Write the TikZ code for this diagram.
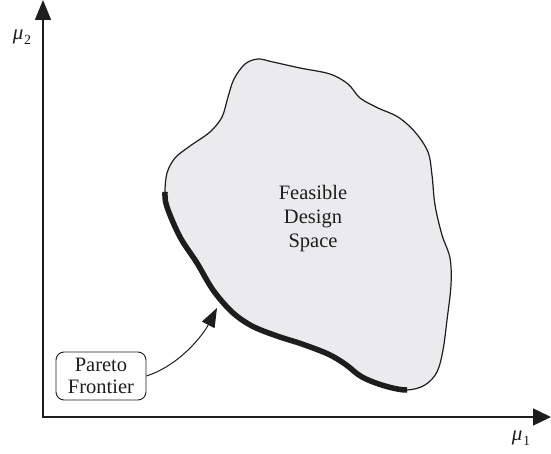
\documentclass[tikz,border=0pt]{standalone}
\usepackage{fontspec}
\setmainfont{Liberation Serif}
\usetikzlibrary{arrows.meta}
\definecolor{spacefill}{RGB}{235,235,237}
\definecolor{ink}{RGB}{30,28,29}
\tikzset{
  axisline/.style={line width=1.5pt, draw=ink,
    {Triangle[length=20pt,width=16pt]}-{Triangle[length=18pt,width=17pt]}},
  outline/.style={draw=ink, line width=1.2pt},
  frontier/.style={draw=ink, line width=5.5pt},
  labeltext/.style={font=\fontsize{20.5}{24}\selectfont, text=ink, align=center},
  callout/.style={draw=ink, line width=0.9pt, rounded corners=8pt,
    minimum width=90pt, minimum height=48pt, inner sep=0pt,
    font=\fontsize{20.5}{22}\selectfont, text=ink, align=center},
  pointer/.style={draw=ink, line width=1pt, -{Triangle[length=19pt,width=14pt]}},
  axislabel/.style={font=\fontsize{21}{21}\selectfont, text=ink, inner sep=0pt},
}
% boundary of the feasible region, traced clockwise from the top of the frontier
\def\boundary{plot[smooth cycle, tension=0.55] coordinates {
  (165,192) (167,207) (180,237) (197,263) (213,290) (232,312) (252,326)
  (277,336) (302,344) (328,354) (345,364) (362,377) (385,386) (407,390)
  (425,385) (437,372) (443,350) (447,320) (451,285) (450,258) (442,235)
  (435,205) (432,175) (428,152) (415,132) (398,117) (378,108) (360,98)
  (348,84) (330,74) (300,68) (273,62) (258,59) (245,64) (234,79) (228,97)
  (222,117) (210,132) (190,146) (175,158) (167,173)}}
\newcommand{\mulabel}[1]{\textit{μ}\kern0.5pt\raisebox{-4.5pt}{\fontsize{14}{14}\selectfont #1}}
\begin{document}
\begin{tikzpicture}[x=1pt, y=-1pt]
  \useasboundingbox (0,0) rectangle (551,454);
  % axes
  \coordinate (O) at (43,417);
  \coordinate (yend) at (43,0);
  \coordinate (xend) at (551,417);
  \draw[axisline] (yend) -- (O) -- (xend);
  \node[axislabel] (mu2) at (22,37) {\mulabel{2}};
  \node[axislabel] (mu1) at (521,438) {\mulabel{1}};
  % feasible design space
  \fill[spacefill] \boundary;
  \draw[outline] \boundary;
  % Pareto frontier: the lower-left stretch of the boundary, drawn heavy
  \begin{scope}
    \clip (120,192) -- (186,192) -- (200,240) -- (260,310) -- (330,335)
          -- (407,368) -- (407,412) -- (120,412) -- cycle;
    \draw[frontier] \boundary;
  \end{scope}
  \node[labeltext] (fds) at (313,219) {Feasible\\Design\\Space};
  % callout
  \node[callout] (pf) at (101,376) {Pareto\\Frontier};
  \coordinate (pt) at (217,308);
  \draw[pointer] (pf.east) .. controls (180,365) and (203,335) .. (pt);
\end{tikzpicture}
\end{document}
